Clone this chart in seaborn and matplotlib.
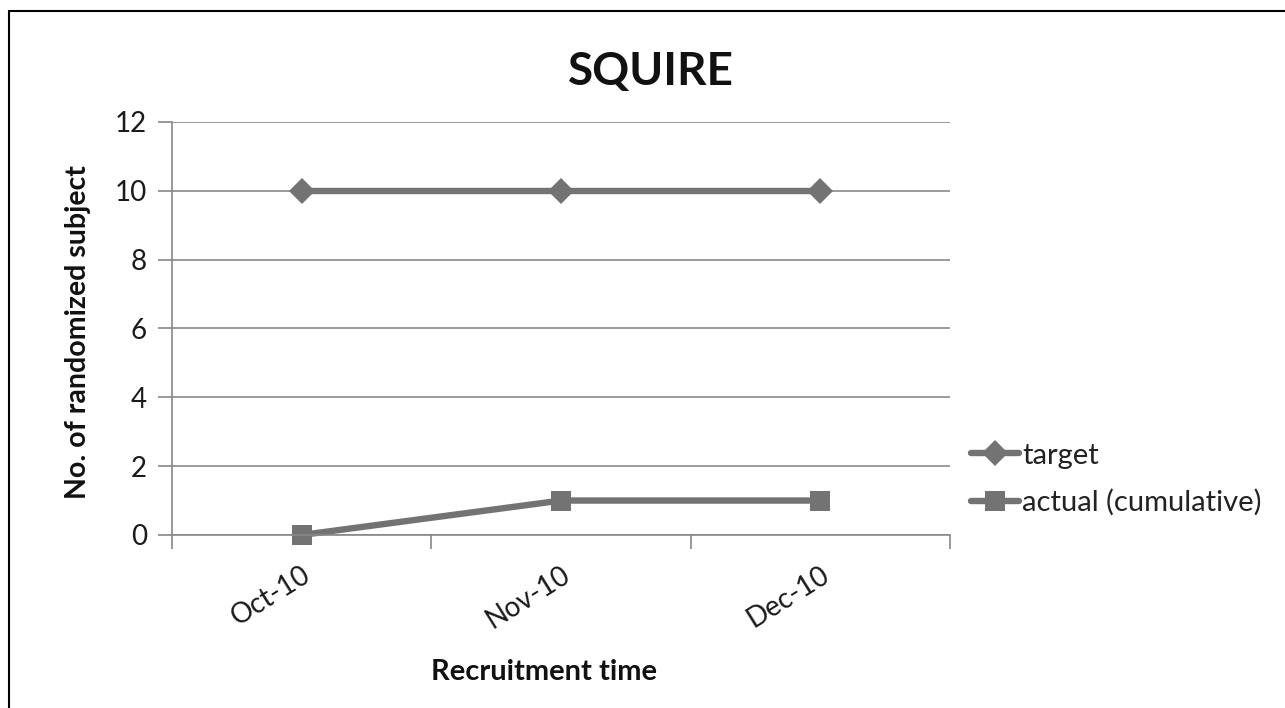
import matplotlib
matplotlib.use("Agg")
import matplotlib.pyplot as plt
import seaborn as sns
import pandas as pd
from matplotlib.lines import Line2D

months = ["Oct-10", "Nov-10", "Dec-10"]
target = [10, 10, 10]
actual = [0, 1, 1]
series_names = ["target", "actual (cumulative)"]
y_ticks = [0, 2, 4, 6, 8, 10, 12]

sns.set_theme(style="white")
plt.rcParams['font.family'] = ['Lato', 'DejaVu Sans']

df = pd.DataFrame({
    "month": months * 2,
    "value": target + actual,
    "series": [series_names[0]] * 3 + [series_names[1]] * 3,
})
df["pos"] = [0, 1, 2] * 2

fig = plt.figure(figsize=(12.85, 7.08), dpi=100)
ax = fig.add_axes([0.1339, 0.2444, 0.6054, 0.5833])

gray = "#737373"
lw = 4.6
d_size = 13
s_size = 15
sns.lineplot(data=df, x="pos", y="value", hue="series", style="series",
             markers={"target": "D", "actual (cumulative)": "s"},
             dashes=False, palette={"target": gray, "actual (cumulative)": gray},
             linewidth=lw, markersize=s_size, markeredgewidth=0, ax=ax, legend=False)
for ln in ax.get_lines():
    ln.set_clip_on(False)
    if ln.get_marker() == "D":
        ln.set_markersize(d_size)

ax.set_xlim(-0.5, 2.5)
ax.set_ylim(0, 12)
ax.set_yticks(y_ticks)
ax.set_yticklabels([str(v) for v in y_ticks], fontsize=20, color="#1a1a1a")
ax.set_xticks([0, 1, 2])
ax.set_xticklabels(months, rotation=32, fontsize=20, color="#1a1a1a",
                   ha="right", va="top", rotation_mode="anchor")
ax.tick_params(axis="x", which="major", length=0, pad=19)
ax.set_xticks([-0.5, 0.5, 1.5, 2.5], minor=True)
ax.tick_params(axis="x", which="minor", length=10, width=1.2, color="#888888", direction="out", bottom=True)
ax.tick_params(axis="y", which="major", length=10, width=1.2, color="#888888", direction="out", left=True, pad=8)

ax.grid(axis="y", color="#8a8a8a", linewidth=1.2)
ax.grid(axis="x", visible=False)
ax.set_axisbelow(True)
for s in ["top", "right"]:
    ax.spines[s].set_visible(False)
for s in ["left", "bottom"]:
    ax.spines[s].set_color("#888888")
    ax.spines[s].set_linewidth(1.2)

ax.set_xlabel("")
ax.set_ylabel("")
fig.text(544 / 1285, 1 - 672 / 708, "Recruitment time", fontsize=21, fontweight="bold",
         color="#111111", ha="center", va="center")
fig.text(78 / 1285, 1 - 332 / 708, "No. of randomized subject", fontsize=20.5, fontweight="bold",
         color="#111111", ha="center", va="center", rotation=90)
fig.text(651 / 1285, 1 - 72 / 708, "SQUIRE", fontsize=33, fontweight="bold", color="#111111",
         ha="center", va="center")

handles = [
    Line2D([], [], color=gray, linewidth=lw, marker="D", markersize=d_size, markeredgewidth=0),
    Line2D([], [], color=gray, linewidth=lw, marker="s", markersize=s_size, markeredgewidth=0),
]
fig.legend(handles, series_names, loc="upper left", bbox_to_anchor=(0.7355, 0.412),
           frameon=False, fontsize=21, handlelength=1.65, handletextpad=0.1,
           labelspacing=0.7, labelcolor="#222222")

fig.add_artist(Line2D([9 / 1285, 1.0], [1 - 11 / 708, 1 - 11 / 708], color="black", linewidth=1.5, transform=fig.transFigure))
fig.add_artist(Line2D([9 / 1285, 9 / 1285], [0.0, 1 - 11 / 708], color="black", linewidth=1.5, transform=fig.transFigure))

fig.savefig("out.png", dpi=100, facecolor="white")
